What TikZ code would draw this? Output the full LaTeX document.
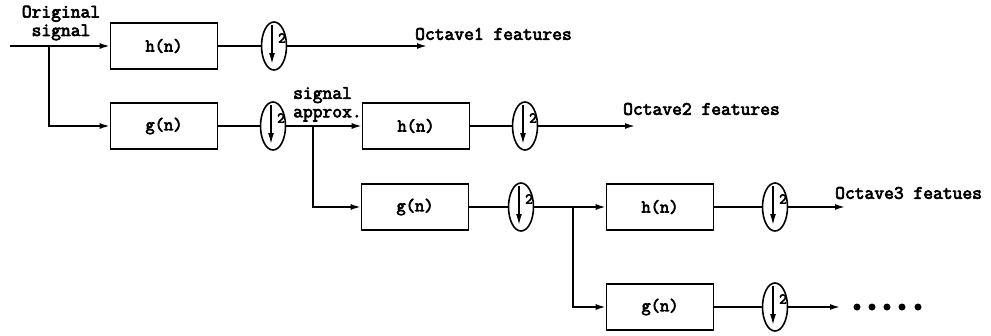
\documentclass[tikz,border=0pt]{standalone}
\usepackage{fontspec}
\setmonofont[BoldFont={Latin Modern Mono}, BoldFeatures={FakeBold=3.5}]{Latin Modern Mono}
\usetikzlibrary{arrows.meta,shapes.geometric,calc}

\tikzset{
  filt/.style={draw, line width=1.6pt, minimum width=107pt, minimum height=46pt,
    inner sep=0pt, font=\ttfamily\bfseries\fontsize{18}{20}\selectfont},
  dsamp/.style={draw, ellipse, line width=1.6pt, minimum width=25pt,
    minimum height=48pt, inner sep=0pt},
  wire/.style={line width=1.6pt},
  feed/.style={wire, -{Latex[length=10pt,width=6pt]}},
  lbl/.style={font=\ttfamily\bfseries\fontsize{19}{18.5}\selectfont, inner sep=0pt},
  dotmark/.style={circle, fill, minimum size=7pt, inner sep=0pt},
}

\begin{document}
\begin{tikzpicture}[x=1pt, y=-1pt]
\useasboundingbox (0,0) rectangle (991,335);

% filter bank boxes
\node[filt] (h1) at (164,46)  {h(n)};
\node[filt] (g1) at (164,126) {g(n)};
\node[filt] (h2) at (416,126) {h(n)};
\node[filt] (g2) at (415,207) {g(n)};
\node[filt] (h3) at (660,207) {h(n)};
\node[filt] (g3) at (660,307) {g(n)};

% down-samplers
\node[dsamp] (d1) at (274,46)  {};
\node[dsamp] (d2) at (273,126) {};
\node[dsamp] (d3) at (525,126) {};
\node[dsamp] (d4) at (521,207) {};
\node[dsamp] (d5) at (775,207) {};
\node[dsamp] (d6) at (775,307) {};

\foreach \d in {d1,d2,d3,d4,d5,d6} {
  \draw[line width=1.5pt, -{Latex[length=11pt,width=6pt]}]
    ($(\d)+(-2,-21)$) -- ($(\d)+(-2,18)$);
  \node[font=\ttfamily\bfseries\fontsize{15}{15}\selectfont, inner sep=0pt]
    at ($(\d)+(8,-8)$) {2};
}

% labels
\node[lbl, align=center] (orig) at (61,23) {Original\\signal};
\node[lbl, align=left, anchor=north west] (approx) at (293,87) {signal\\approx.};
\node[lbl, anchor=west] (oct1) at (415,34)  {Octave1 features};
\node[lbl, anchor=west] (oct2) at (623,109) {Octave2 features};
\node[lbl, anchor=west] (oct3) at (835,193) {Octave3 featues};

% free ends
\coordinate (src) at (10,46);
\coordinate (b1) at (49,46);
\coordinate (b2) at (313,126);
\coordinate (b3) at (573,207);
\coordinate (e1) at (427,46);
\coordinate (e2) at (635,126);
\coordinate (e3) at (845,207);
\coordinate (e4) at (840,307);

% first octave
\draw[feed] (src) -- (h1.west);
\draw[feed] (b1) |- (g1.west);
\draw[wire] (h1.east) -- (d1.west);
\draw[feed] (d1.east) -- (e1);
\draw[wire] (g1.east) -- (d2.west);

% second octave
\draw[feed] (d2.east) -- (h2.west);
\draw[feed] (b2) |- (g2.west);
\draw[wire] (h2.east) -- (d3.west);
\draw[feed] (d3.east) -- (e2);
\draw[wire] (g2.east) -- (d4.west);

% third octave
\draw[feed] (d4.east) -- (h3.west);
\draw[feed] (b3) |- (g3.west);
\draw[wire] (h3.east) -- (d5.west);
\draw[feed] (d5.east) -- (e3);
\draw[wire] (g3.east) -- (d6.west);
\draw[feed] (d6.east) -- (e4);

% continuation dots
\foreach \i [count=\k] in {857,872,887,902,918}
  \node[dotmark] (dot\k) at (\i,307) {};
\end{tikzpicture}
\end{document}
